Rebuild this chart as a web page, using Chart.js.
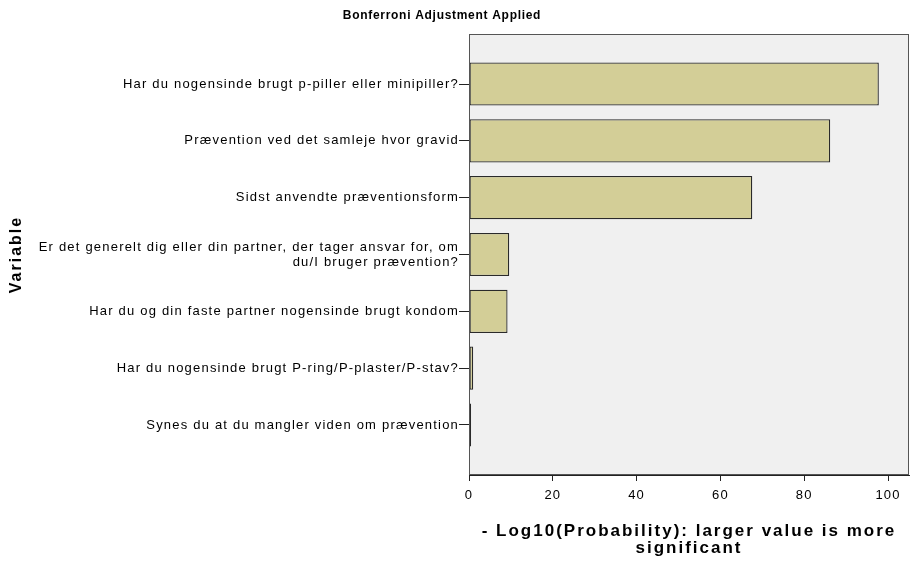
<!DOCTYPE html>
<html>
<head>
<meta charset="utf-8">
<script src="https://cdn.jsdelivr.net/npm/chart.js@4.4.1/dist/chart.umd.min.js"></script>
<style>
  html, body { margin: 0; padding: 0; background: #fff; }
  #wrap { width: 910px; height: 561px; }
</style>
</head>
<body>
<div id="wrap"><canvas id="varChart" width="910" height="561"></canvas></div>
<script>
const categories = [
    'Har du nogensinde brugt p-piller eller minipiller?',
    'Prævention ved det samleje hvor gravid',
    'Sidst anvendte præventionsform',
    ['Er det generelt dig eller din partner, der tager ansvar for, om', 'du/I bruger prævention?'],
    'Har du og din faste partner nogensinde brugt kondom',
    'Har du nogensinde brugt P-ring/P-plaster/P-stav?',
    'Synes du at du mangler viden om prævention'
];
const importance = [97.8, 86.2, 67.6, 9.6, 9.2, 1.0, 0.5];
const xTicks = [0, 20, 40, 60, 80, 100];
const chartTitle = 'Bonferroni Adjustment Applied';
const xTitle = ['- Log10(Probability): larger value is more', 'significant'];
const yTitle = 'Variable';

const font = 'Liberation Sans, Arial, sans-serif';
const ink = '#222';

// grey plot, frame, and the titles (the reference sets its text wide)
const frame = {
    id: 'frame',
    beforeDraw(chart) {
        chart.ctx.letterSpacing = '1.2px';
    },
    beforeDatasetsDraw(chart) {
        const { ctx, chartArea: a } = chart;
        ctx.save();
        ctx.fillStyle = '#f0f0f0';
        ctx.fillRect(a.left, a.top, a.right - a.left, a.bottom - a.top);
        ctx.restore();
    },
    afterDraw(chart) {
        const { ctx, chartArea: a } = chart;
        ctx.save();
        ctx.strokeStyle = '#555';
        ctx.lineWidth = 1;
        ctx.strokeRect(a.left + 0.5, a.top + 0.5, a.right - a.left - 1, a.bottom - a.top - 1);

        ctx.fillStyle = '#000';
        ctx.textAlign = 'center';
        ctx.textBaseline = 'middle';
        ctx.letterSpacing = '0.7px';
        ctx.font = 'bold 12px ' + font;
        ctx.fillText(chartTitle, 442, 16);

        ctx.letterSpacing = '2px';
        ctx.font = 'bold 17px ' + font;
        ctx.textBaseline = 'alphabetic';
        const cx = (a.left + a.right) / 2;
        ctx.fillText(xTitle[0], cx, 536);
        ctx.fillText(xTitle[1], cx, 553);

        ctx.font = 'bold 16px ' + font;
        ctx.textBaseline = 'middle';
        ctx.translate(17, (a.top + a.bottom) / 2);
        ctx.rotate(-Math.PI / 2);
        ctx.fillText(yTitle, 0, 0);
        ctx.restore();
    }
};

const ctx = document.getElementById('varChart').getContext('2d');
new Chart(ctx, {
    type: 'bar',
    data: {
        datasets: [{
            data: importance.map((v, i) => ({ x: v, y: i })),
            backgroundColor: '#d3ce97',
            borderColor: '#2a2a2a',
            borderWidth: 1.3,
            borderSkipped: false,
            categoryPercentage: 1,
            barPercentage: 0.76
        }]
    },
    options: {
        indexAxis: 'y',
        responsive: false,
        animation: false,
        layout: { padding: { top: 34, right: 1, left: 0, bottom: 0 } },
        plugins: {
            legend: { display: false },
            tooltip: { enabled: false }
        },
        scales: {
            x: {
                type: 'linear',
                min: 0,
                max: 105,
                afterBuildTicks: s => { s.ticks = xTicks.map(v => ({ value: v })); },
                afterFit: s => { s.height = 86; },
                border: { display: true, color: ink, width: 1 },
                grid: { drawOnChartArea: false, color: ink, tickLength: 6 },
                ticks: { color: '#000', font: { family: font, size: 13 }, padding: 7 }
            },
            y: {
                type: 'linear',
                reverse: true,
                offset: false,
                min: -0.88,
                max: 6.88,
                afterBuildTicks: s => { s.ticks = categories.map((c, i) => ({ value: i })); },
                afterFit: s => { s.width = 469; },
                border: { display: true, color: ink, width: 1 },
                grid: { drawOnChartArea: false, offset: false, color: ink, tickLength: 10 },
                ticks: {
                    color: '#000',
                    font: { family: font, size: 13, lineHeight: 1.15 },
                    padding: 0,
                    callback: v => categories[v]
                }
            }
        }
    },
    plugins: [frame]
});
</script>
</body>
</html>
